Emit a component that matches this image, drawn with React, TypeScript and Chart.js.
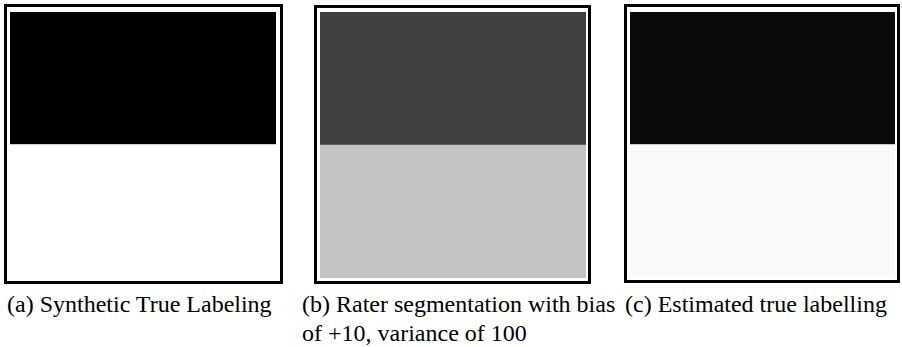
import React, { useEffect, useRef } from "react";
import { Chart, registerables } from "chart.js";

Chart.register(...registerables);

const categories = ["image"];
const panelIds = ["a", "b", "c"];
const upperRegion = [50, 50, 50];
const lowerRegion = [50, 50, 50];
const upperColors = ["#000000", "#404040", "#0a0a0a"];
const lowerColors = ["#ffffff", "#c4c4c4", "#f9f9f9"];
const captionLines = [
  ["(a) Synthetic True Labeling"],
  ["(b) Rater segmentation with bias", "of +10, variance of 100"],
  ["(c) Estimated true labelling"],
];

const frames = [
  { left: 4, top: 4, width: 279, height: 280, imgLeft: 10, imgTop: 12, imgW: 266, imgH: 265, capLeft: 7 },
  { left: 314, top: 5, width: 277, height: 279, imgLeft: 320, imgTop: 12, imgW: 266, imgH: 266, capLeft: 302 },
  { left: 624, top: 4, width: 276, height: 279, imgLeft: 630, imgTop: 12, imgW: 265, imgH: 265, capLeft: 625 },
];

function Panel({ index }: { index: number }) {
  const ref = useRef<HTMLCanvasElement | null>(null);
  useEffect(() => {
    if (!ref.current) return;
    const chart = new Chart(ref.current, {
      type: "bar",
      data: {
        labels: categories,
        datasets: [
          {
            label: "lower",
            data: [lowerRegion[index]],
            backgroundColor: lowerColors[index],
            borderWidth: 0,
            barPercentage: 1,
            categoryPercentage: 1,
          },
          {
            label: "upper",
            data: [upperRegion[index]],
            backgroundColor: upperColors[index],
            borderWidth: 0,
            barPercentage: 1,
            categoryPercentage: 1,
          },
        ],
      },
      options: {
        animation: false,
        responsive: false,
        maintainAspectRatio: false,
        layout: { padding: 0 },
        plugins: { legend: { display: false }, tooltip: { enabled: false }, title: { display: false } },
        scales: {
          x: { stacked: true, display: false, grid: { display: false } },
          y: { stacked: true, display: false, min: 0, max: 100, grid: { display: false } },
        },
      },
    });
    return () => chart.destroy();
  }, [index]);
  const f = frames[index];
  return (
    <>
      <div
        style={{
          position: "absolute",
          left: f.left,
          top: f.top,
          width: f.width,
          height: f.height,
          border: "3px solid #000",
          boxSizing: "border-box",
          background: "#fff",
        }}
      />
      <canvas
        ref={ref}
        width={f.imgW}
        height={f.imgH}
        style={{ position: "absolute", left: f.imgLeft, top: f.imgTop, width: f.imgW, height: f.imgH }}
      />
      <div
        style={{
          position: "absolute",
          left: f.capLeft,
          top: 290,
          fontFamily: "'Liberation Serif', 'Times New Roman', serif",
          fontSize: 24,
          lineHeight: "29px",
          color: "#000",
          whiteSpace: "nowrap",
        }}
      >
        {captionLines[index].map((t, i) => (
          <div key={i}>{t}</div>
        ))}
      </div>
    </>
  );
}

export default function App() {
  return (
    <div style={{ position: "fixed", left: 0, top: 0, width: 902, height: 347, background: "#fff", overflow: "hidden" }}>
      {panelIds.map((id, i) => (
        <Panel key={id} index={i} />
      ))}
    </div>
  );
}
